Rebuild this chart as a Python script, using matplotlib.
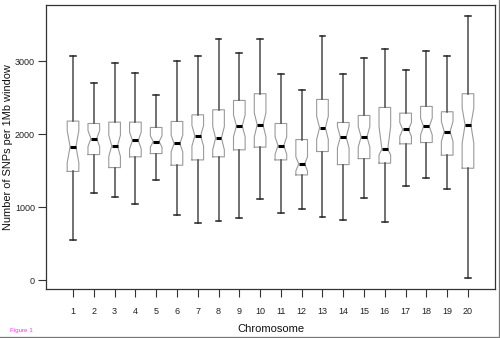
import numpy as np
import matplotlib
matplotlib.use("Agg")
import matplotlib.pyplot as plt
from matplotlib.lines import Line2D

plt.rcParams['font.family'] = ['Liberation Sans', 'DejaVu Sans']

# per-chromosome SNP density summaries (SNPs per 1Mb window)
chromosomes = list(range(1, 21))
whislo = [545, 1190, 1145, 1049, 1369, 893, 778, 815, 852, 1113,
          925, 980, 861, 824, 1131, 801, 1295, 1397, 1246, 23]
q1 = [1490, 1721, 1543, 1690, 1735, 1575, 1648, 1690, 1786, 1823,
      1648, 1442, 1763, 1584, 1666, 1603, 1868, 1886, 1713, 1534]
med = [1830, 1941, 1841, 1914, 1900, 1873, 1978, 1946, 2115, 2129,
       1845, 1593, 2088, 1960, 1964, 1795, 2065, 2106, 2037, 2129]
q3 = [2180, 2147, 2166, 2166, 2093, 2175, 2266, 2335, 2463, 2555,
      2147, 1927, 2477, 2161, 2257, 2367, 2289, 2381, 2308, 2555]
whishi = [3077, 2697, 2981, 2839, 2541, 3000, 3077, 3306, 3118, 3306,
          2821, 2601, 3352, 2830, 3049, 3169, 2885, 3136, 3077, 3626]
cilo = [1611, 1831, 1695, 1799, 1822, 1758, 1836, 1786, 1965, 1964,
        1725, 1497, 1928, 1813, 1822, 1717, 1969, 1991, 1900, 1878]
cihi = [2050, 2051, 1987, 2029, 1978, 1988, 2120, 2106, 2265, 2294,
        1965, 1689, 2248, 2107, 2106, 2106, 2161, 2221, 2174, 2358]

stats = []
for i, c in enumerate(chromosomes):
    stats.append(dict(label=str(c), whislo=whislo[i], q1=q1[i], med=med[i],
                      q3=q3[i], whishi=whishi[i], cilo=cilo[i], cihi=cihi[i],
                      fliers=[]))

fig = plt.figure(figsize=(5.0, 3.38), dpi=100)
ax = fig.add_axes([0.092, 0.145, 0.898, 0.840])

ax.bxp(stats, positions=chromosomes, widths=0.56, capwidths=0.28,
       shownotches=True, showfliers=False, patch_artist=False,
       boxprops=dict(color='#9a9a9a', linewidth=0.8),
       whiskerprops=dict(color='#4a4a4a', linewidth=1.1, linestyle='-'),
       capprops=dict(color='#222222', linewidth=1.1),
       medianprops=dict(color='black', linewidth=2.2, solid_capstyle='butt'))

# R-style 4% padding around the data range
ylo, yhi = min(whislo), max(whishi)
pad = 0.04 * (yhi - ylo)
ax.set_ylim(ylo - pad, yhi + pad)
ax.set_xlim(0.5 - 0.8, 20.5 + 0.8)

ax.set_xticks(chromosomes)
ax.set_xticklabels([str(c) for c in chromosomes])
ax.set_yticks([0, 1000, 2000, 3000])
ax.tick_params(axis='both', direction='out', length=6, width=0.8,
               color='#333333', labelsize=6.5, labelcolor='#222222')
ax.tick_params(axis='x', pad=7)
ax.tick_params(axis='y', pad=2)

for s in ax.spines.values():
    s.set_color('#333333')
    s.set_linewidth(0.9)

ax.set_xlabel('Chromosome', fontsize=8, color='#111111', labelpad=6)
ax.set_ylabel('Number of SNPs per 1Mb window', fontsize=7.9, color='#111111')
ax.yaxis.set_label_coords(-0.074, 0.5)

fig.text(0.02, 0.018, 'Figure 1', color='#ff33ff', fontsize=4.5)

# thin frame along the bottom and right edges of the figure
fig.add_artist(Line2D([0, 1], [0.003, 0.003], transform=fig.transFigure,
                      color='#777777', linewidth=0.9))
fig.add_artist(Line2D([0.997, 0.997], [0, 1], transform=fig.transFigure,
                      color='#777777', linewidth=0.9))

fig.savefig('out.png', dpi=100)
